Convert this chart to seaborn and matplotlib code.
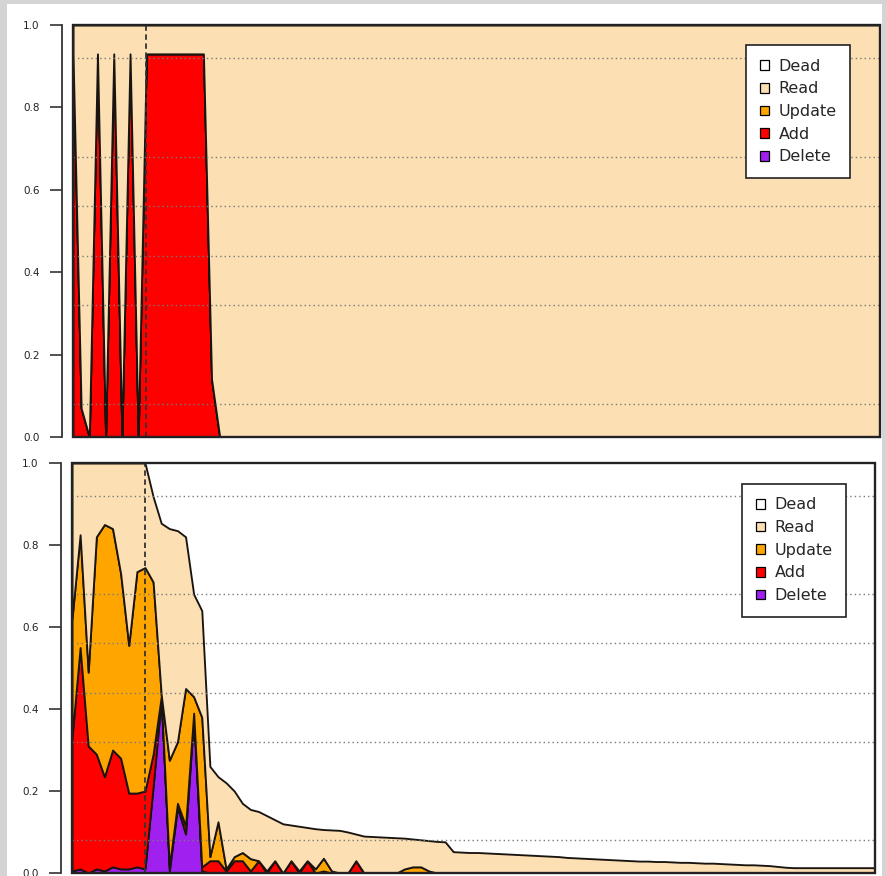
import matplotlib
matplotlib.use("Agg")
import matplotlib.pyplot as plt
from matplotlib.patches import Patch, Rectangle
import numpy as np
import seaborn as sns

# shares per time step (0..99); Dead is whatever is left up to 1.0
categories = ["Dead", "Read", "Update", "Add", "Delete"]
colors = {"Dead": "#ffffff", "Read": "#fcdfb3", "Update": "#ffa500",
          "Add": "#ff0000", "Delete": "#a020f0"}

steps = list(range(100))
marker_step = 9

# top panel: only Add, Read fills the rest
top_add = [0.93, 0.07, 0.0, 0.93, 0.0, 0.93, 0.0, 0.93, 0.0, 0.93,
           0.93, 0.93, 0.93, 0.93, 0.93, 0.93, 0.93, 0.14, 0.0, 0.0,
           0, 0, 0, 0, 0, 0, 0, 0, 0, 0,
           0, 0, 0, 0, 0, 0, 0, 0, 0, 0,
           0, 0, 0, 0, 0, 0, 0, 0, 0, 0,
           0, 0, 0, 0, 0, 0, 0, 0, 0, 0,
           0, 0, 0, 0, 0, 0, 0, 0, 0, 0,
           0, 0, 0, 0, 0, 0, 0, 0, 0, 0,
           0, 0, 0, 0, 0, 0, 0, 0, 0, 0,
           0, 0, 0, 0, 0, 0, 0, 0, 0, 0]

# bottom panel
bot_delete = [0.005, 0.01, 0.0, 0.01, 0.005, 0.015, 0.01, 0.01, 0.015, 0.01,
              0.21, 0.425, 0.005, 0.16, 0.095, 0.38, 0.005, 0, 0, 0,
              0, 0, 0, 0, 0, 0, 0, 0, 0, 0,
              0, 0, 0, 0, 0, 0, 0, 0, 0, 0,
              0, 0, 0, 0, 0, 0, 0, 0, 0, 0,
              0, 0, 0, 0, 0, 0, 0, 0, 0, 0,
              0, 0, 0, 0, 0, 0, 0, 0, 0, 0,
              0, 0, 0, 0, 0, 0, 0, 0, 0, 0,
              0, 0, 0, 0, 0, 0, 0, 0, 0, 0,
              0, 0, 0, 0, 0, 0, 0, 0, 0, 0]
bot_add = [0.325, 0.54, 0.31, 0.28, 0.23, 0.285, 0.27, 0.185, 0.18, 0.19,
           0.08, 0.005, 0.01, 0.01, 0.02, 0.01, 0.01, 0.03, 0.03, 0.005,
           0.03, 0.03, 0.005, 0.03, 0, 0.03, 0, 0.03, 0, 0.03,
           0, 0.005, 0, 0, 0, 0.03, 0, 0, 0, 0,
           0, 0, 0, 0, 0, 0, 0, 0, 0, 0,
           0, 0, 0, 0, 0, 0, 0, 0, 0, 0,
           0, 0, 0, 0, 0, 0, 0, 0, 0, 0,
           0, 0, 0, 0, 0, 0, 0, 0, 0, 0,
           0, 0, 0, 0, 0, 0, 0, 0, 0, 0,
           0, 0, 0, 0, 0, 0, 0, 0, 0, 0]
bot_update = [0.29, 0.275, 0.18, 0.53, 0.615, 0.54, 0.45, 0.36, 0.54, 0.545,
              0.42, 0.005, 0.26, 0.15, 0.335, 0.04, 0.365, 0.01, 0.095, 0.005,
              0.01, 0.02, 0.03, 0, 0.005, 0, 0, 0, 0.005, 0,
              0.01, 0.031, 0.005, 0, 0, 0, 0, 0, 0, 0,
              0, 0.01, 0.015, 0.015, 0.005, 0, 0, 0, 0, 0,
              0, 0, 0, 0, 0, 0, 0, 0, 0, 0,
              0, 0, 0, 0, 0, 0, 0, 0, 0, 0,
              0, 0, 0, 0, 0, 0, 0, 0, 0, 0,
              0, 0, 0, 0, 0, 0, 0, 0, 0, 0,
              0, 0, 0, 0, 0, 0, 0, 0, 0, 0]
bot_read = [0.38, 0.175, 0.51, 0.18, 0.15, 0.16, 0.27, 0.445, 0.265, 0.255,
            0.208, 0.418, 0.565, 0.515, 0.37, 0.25, 0.26, 0.22, 0.11, 0.21,
            0.16, 0.12, 0.12, 0.12, 0.135, 0.10, 0.12, 0.087, 0.109, 0.081,
            0.098, 0.07, 0.1, 0.104, 0.1, 0.065, 0.09, 0.089, 0.088, 0.087,
            0.086, 0.075, 0.068, 0.066, 0.074, 0.077, 0.076, 0.052, 0.051, 0.05,
            0.05, 0.049, 0.048, 0.047, 0.046, 0.045, 0.044, 0.043, 0.042, 0.041,
            0.04, 0.038, 0.037, 0.036, 0.035, 0.034, 0.033, 0.032, 0.031, 0.03,
            0.029, 0.029, 0.028, 0.028, 0.027, 0.026, 0.026, 0.025, 0.024, 0.024,
            0.023, 0.022, 0.021, 0.02, 0.02, 0.019, 0.018, 0.016, 0.014, 0.013,
            0.013, 0.013, 0.013, 0.013, 0.013, 0.013, 0.013, 0.013, 0.013, 0.013]

y_ticks = [0.0, 0.2, 0.4, 0.6, 0.8, 1.0]
grid_levels = [0.08, 0.20, 0.32, 0.44, 0.56, 0.68, 0.80, 0.92]

sns.set_theme(style="white")
plt.rcParams["font.family"] = ["DejaVu Sans"]

W, H = 886, 876
fig = plt.figure(figsize=(W / 100, H / 100), dpi=100)
fig.patch.set_facecolor("#d4d4d4")
fig.add_artist(Rectangle((7 / W, 0), (882 - 7) / W, 872 / H, transform=fig.transFigure,
                         facecolor="white", edgecolor="none", zorder=-10))


def draw_panel(ax, delete, add, update, read, legend_anchor):
    stack_order = ["Delete", "Add", "Update", "Read"]
    ax.stackplot(steps, delete, add, update, read,
                 colors=[colors[c] for c in stack_order],
                 edgecolor="#1a1410", linewidth=1.35, zorder=1)
    ax.set_xlim(0, len(steps) - 1)
    ax.set_ylim(0, 1)
    ax.set_facecolor("white")

    # dotted guides above the areas
    ax.set_yticks(y_ticks)
    ax.set_yticklabels([f"{t:.1f}" for t in y_ticks], fontweight="bold")
    ax.set_yticks(grid_levels, minor=True)
    ax.grid(False)
    ax.grid(which="minor", axis="y", color="#7a7a7a", linestyle=(0, (1, 2.2)), linewidth=1.0)
    ax.set_axisbelow(False)
    ax.axvline(marker_step, color="#333333", linestyle=(0, (3, 2)), linewidth=1.3, zorder=4)

    # R-like detached y axis plus a full box
    for side in ["top", "right", "bottom"]:
        ax.spines[side].set_visible(False)
    ax.spines["left"].set_position(("outward", 8))
    ax.spines["left"].set_color("#333333")
    ax.spines["left"].set_linewidth(1.3)
    ax.add_patch(Rectangle((0, 0), 1, 1, transform=ax.transAxes, fill=False,
                           edgecolor="#222222", linewidth=1.7, clip_on=False, zorder=6))
    ax.tick_params(axis="y", which="major", left=True, direction="out", length=9,
                   width=1.2, pad=7, labelsize=7.5, labelcolor="#222222", color="#333333")
    ax.tick_params(axis="y", which="minor", left=False, length=0)
    ax.tick_params(axis="x", bottom=False, labelbottom=False)
    ax.set_xlabel("")
    ax.set_ylabel("")

    handles = [Patch(facecolor=colors[c], edgecolor="black", linewidth=0.9, label=c)
               for c in categories]
    leg = ax.legend(handles=handles, loc="upper right", bbox_to_anchor=legend_anchor,
                    borderaxespad=0, fontsize=11.5, frameon=True, fancybox=False,
                    framealpha=1, edgecolor="#222222", handlelength=0.55,
                    handleheight=0.55, handletextpad=0.6, labelspacing=0.48,
                    borderpad=0.85)
    leg.get_frame().set_linewidth(1.2)
    leg.set_zorder(10)


ax_top = fig.add_axes([73 / W, (H - 437) / H, 807 / W, 412 / H])
top_add_arr = np.array(top_add, dtype=float)
draw_panel(ax_top, np.zeros(len(steps)), top_add_arr, np.zeros(len(steps)),
           1.0 - top_add_arr, (0.963, 0.951))

ax_bot = fig.add_axes([72 / W, (H - 873) / H, 803 / W, 410 / H])
draw_panel(ax_bot, bot_delete, bot_add, bot_update, bot_read, (0.964, 0.949))

fig.savefig("out.png", dpi=100, facecolor=fig.get_facecolor())
